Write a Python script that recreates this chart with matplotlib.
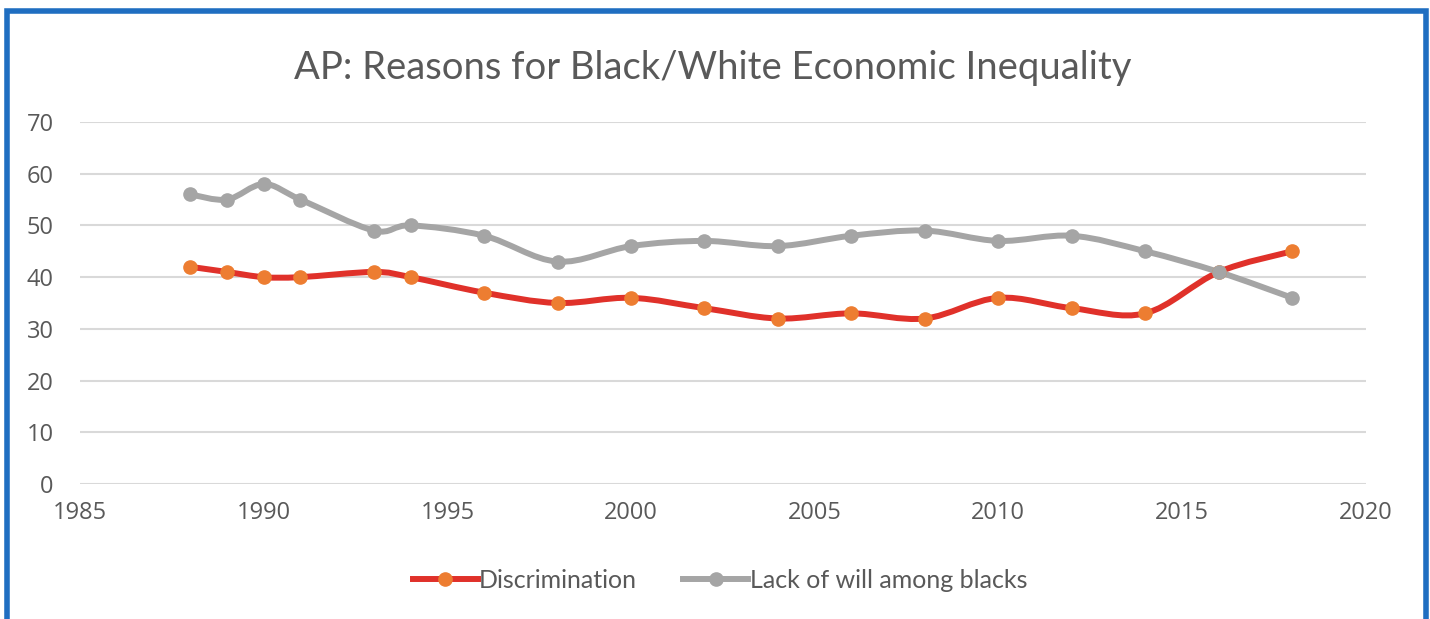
import numpy as np
import matplotlib
matplotlib.use("Agg")
import matplotlib.pyplot as plt
from matplotlib.path import Path
from matplotlib.patches import PathPatch, Rectangle
from matplotlib.lines import Line2D

years = [1988, 1989, 1990, 1991, 1993, 1994, 1996, 1998, 2000, 2002,
         2004, 2006, 2008, 2010, 2012, 2014, 2016, 2018]
discrimination = [42, 41, 40, 40, 41, 40, 37, 35, 36, 34,
                  32, 33, 32, 36, 34, 33, 41, 45]
lack_of_will = [56, 55, 58, 55, 49, 50, 48, 43, 46, 47,
                46, 48, 49, 47, 48, 45, 41, 36]
series_names = ["Discrimination", "Lack of will among blacks"]

RED = "#E0312A"
ORANGE = "#ED7D31"
GRAY = "#A5A5A5"
TEXT = "#595959"


def smooth_path(x, y):
    # Excel-style smoothed line: cubic Bezier segments with Catmull-Rom handles
    pts = np.column_stack([x, y]).astype(float)
    n = len(pts)
    verts = [pts[0]]
    codes = [Path.MOVETO]
    for i in range(n - 1):
        p0 = pts[i - 1] if i > 0 else pts[i]
        p1 = pts[i]
        p2 = pts[i + 1]
        p3 = pts[i + 2] if i + 2 < n else pts[i + 1]
        c1 = p1 + (p2 - p0) / 6.0
        c2 = p2 - (p3 - p1) / 6.0
        verts += [c1, c2, p2]
        codes += [Path.CURVE4] * 3
    return Path(verts, codes)


fig = plt.figure(figsize=(14.3, 6.19), dpi=100)
fig.patch.set_facecolor("white")

# blue frame around the chart
fig.patches.append(Rectangle((0.0052, -0.05), 0.9917, 1.033, transform=fig.transFigure,
                             fill=False, edgecolor="#1F6EC1", linewidth=4))

ax = fig.add_axes([0.056, 0.218, 0.899, 0.585])
ax.set_xlim(1985, 2020)
ax.set_ylim(0, 70)
ax.set_xticks(range(1985, 2021, 5))
ax.set_yticks(range(0, 71, 10))
for s in ax.spines.values():
    s.set_visible(False)
ax.yaxis.grid(True, color="#D9D9D9", linewidth=1.5)
ax.set_axisbelow(True)
ax.tick_params(length=0, labelsize=17, labelcolor=TEXT)
ax.tick_params(axis="y", pad=19)
ax.tick_params(axis="x", pad=12)
for lbl in ax.get_xticklabels() + ax.get_yticklabels():
    lbl.set_fontfamily("Open Sans")

for vals, lc, mc in [(discrimination, RED, ORANGE), (lack_of_will, GRAY, GRAY)]:
    ax.add_patch(PathPatch(smooth_path(years, vals), facecolor="none", edgecolor=lc,
                           linewidth=4.3, capstyle="round", joinstyle="round",
                           clip_on=False, zorder=3))
    ax.plot(years, vals, linestyle="none", marker="o", markersize=9.5,
            color=mc, clip_on=False, zorder=4)

fig.text(0.4985, 0.89, "AP: Reasons for Black/White Economic Inequality",
         ha="center", va="center", fontsize=27.5, color=TEXT, family="Lato")

handles = [
    Line2D([], [], color=RED, linewidth=4.3, marker="o", markersize=9.5,
           markerfacecolor=ORANGE, markeredgecolor=ORANGE),
    Line2D([], [], color=GRAY, linewidth=4.3, marker="o", markersize=9.5,
           markerfacecolor=GRAY, markeredgecolor=GRAY),
]
fig.legend(handles, series_names, loc="center", bbox_to_anchor=(0.5035, 0.063),
           ncol=2, frameon=False, handlelength=2.6, handletextpad=0.05,
           columnspacing=1.85, numpoints=1,
           prop={"family": "Lato", "size": 18}, labelcolor=TEXT)

fig.savefig("out.png", dpi=100)
